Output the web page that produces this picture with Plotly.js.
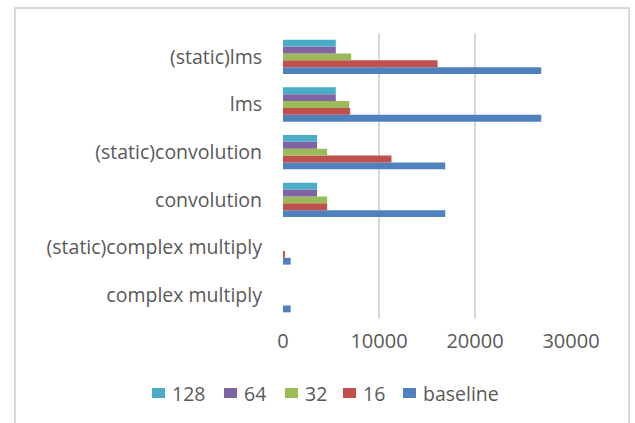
<!DOCTYPE html>
<html>
<head>
<meta charset="utf-8">
<script src="https://cdn.plot.ly/plotly-3.0.1.min.js"></script>
<style>
  html, body { margin: 0; padding: 0; background: #ffffff; }
  #chart { width: 635px; height: 423px; }
</style>
</head>
<body>
<div id="chart"></div>
<script>
// Categories listed bottom to top
const categories = ["complex multiply", "(static)complex multiply", "convolution", "(static)convolution", "lms", "(static)lms"];
const seriesNames = ["baseline", "16", "32", "64", "128"];
const baseline = [800, 800, 16900, 16900, 26900, 26900];
const s16      = [0, 200, 4600, 11300, 7000, 16100];
const s32      = [0, 0, 4600, 4600, 6900, 7100];
const s64      = [0, 0, 3550, 3550, 5500, 5500];
const s128     = [0, 0, 3550, 3550, 5500, 5500];
const colors = ["#4F81BD", "#C0504D", "#9BBB59", "#8064A2", "#4BACC6"];
const xTicks = [0, 10000, 20000, 30000];

const seriesValues = [baseline, s16, s32, s64, s128];
const font = "'Open Sans', 'Noto Sans', sans-serif";
const textColor = "#595959";

// plot-area geometry in pixels (used to convert page pixels to paper coords)
const PL = 283, PR = 571, PT = 33, PB = 319;
const px2x = p => (p - PL) / (PR - PL);
const py2y = p => (PB - p) / (PB - PT);

const traces = seriesValues.map((vals, i) => ({
  type: "bar",
  orientation: "h",
  name: seriesNames[i],
  y: categories,
  x: vals,
  marker: { color: colors[i], line: { width: 0 } },
  hoverinfo: "x+name"
}));

// Legend drawn in reversed order (128 first) at the bottom
const legendOrder = [4, 3, 2, 1, 0];
const legendSwatchLeft = [152, 224, 285, 343, 403];
const shapes = [{
  type: "rect",
  xref: "paper", yref: "paper",
  x0: px2x(15), x1: px2x(629),
  y0: -0.6, y1: py2y(8),
  line: { color: "#d9d9d9", width: 2 },
  fillcolor: "rgba(0,0,0,0)",
  layer: "below"
}];
const annotations = [];
legendOrder.forEach((si, k) => {
  const left = legendSwatchLeft[k];
  shapes.push({
    type: "rect", xref: "paper", yref: "paper",
    x0: px2x(left), x1: px2x(left + 13),
    y0: py2y(398), y1: py2y(388),
    line: { width: 0 }, fillcolor: colors[si]
  });
  annotations.push({
    xref: "paper", yref: "paper",
    x: px2x(left + 18), y: py2y(393),
    xanchor: "left", yanchor: "middle",
    text: seriesNames[si], showarrow: false,
    font: { family: font, size: 19.5, color: textColor }
  });
});

const layout = {
  width: 635,
  height: 423,
  margin: { l: PL, r: 635 - PR, t: PT, b: 423 - PB, pad: 0 },
  paper_bgcolor: "#ffffff",
  plot_bgcolor: "#ffffff",
  barmode: "group",
  bargap: 0.28,
  bargroupgap: 0,
  showlegend: false,
  font: { family: font, size: 19, color: textColor },
  xaxis: {
    range: [0, 30000],
    tickvals: xTicks,
    ticktext: xTicks.map(String),
    showgrid: true,
    gridcolor: "#d9d9d9",
    gridwidth: 2,
    zeroline: false,
    showline: false,
    ticks: "",
    ticklabelstandoff: 8,
    tickfont: { family: font, size: 20, color: textColor },
    fixedrange: true
  },
  yaxis: {
    type: "category",
    categoryorder: "array",
    categoryarray: categories,
    showgrid: false,
    zeroline: false,
    showline: false,
    ticks: "",
    ticklabelstandoff: 20,
    tickfont: { family: font, size: 19.5, color: textColor },
    fixedrange: true
  },
  shapes: shapes,
  annotations: annotations
};

Plotly.newPlot("chart", traces, layout, { displayModeBar: false, staticPlot: true });
</script>
</body>
</html>
